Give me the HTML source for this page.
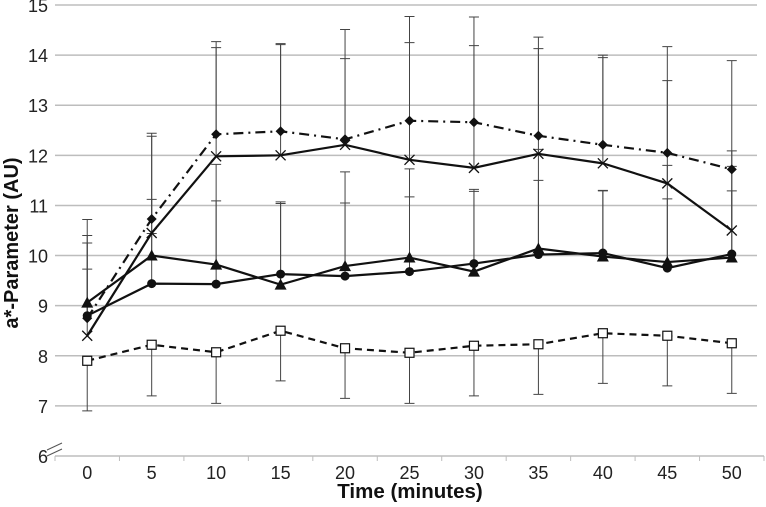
<!DOCTYPE html>
<html><head><meta charset="utf-8">
<style>
body{margin:0;background:#fff;}
svg{display:block;font-family:"Liberation Sans",Arial,sans-serif;}
</style></head>
<body>
<svg id="chart" width="766" height="507" viewBox="0 0 766 507" xmlns="http://www.w3.org/2000/svg">
<g id="grid"></g>
<g id="axes"></g>
<g id="series"></g>
<text x="0" y="0" transform="translate(18,243) rotate(-90)" text-anchor="middle" font-size="20" font-weight="bold" fill="#111">a*-Parameter (AU)</text>
<text x="410" y="498" text-anchor="middle" font-size="20.5" font-weight="bold" fill="#111">Time (minutes)</text>
</svg>
<script>
const categories=[0,5,10,15,20,25,30,35,40,45,50];
const yTicks=[6,7,8,9,10,11,12,13,14,15];
const diamondVals=[8.75,10.73,12.42,12.48,12.32,12.69,12.66,12.39,12.21,12.05,11.72];
const diamondErr=[1.97,1.71,1.85,1.75,2.19,2.08,2.1,1.97,1.79,2.12,2.17];
const crossVals=[8.4,10.45,11.98,12.0,12.21,11.91,11.75,12.03,11.84,11.44,10.5];
const crossErr=[1.85,1.93,2.17,2.21,1.72,2.34,2.44,2.1,2.11,2.05,1.59];
const triVals=[9.06,10.0,9.82,9.42,9.79,9.96,9.68,10.14,9.98,9.87,9.96];
const triErr=[1.34,1.12,2.0,1.65,1.88,1.77,1.6,1.98,1.31,1.93,1.33];
const circVals=[8.8,9.44,9.43,9.63,9.59,9.68,9.84,10.02,10.05,9.75,10.03];
const circErr=[0.93,1.0,1.66,1.41,1.46,1.49,1.48,1.48,1.25,1.38,1.75];
const sqVals=[7.9,8.22,8.07,8.5,8.15,8.06,8.2,8.23,8.45,8.4,8.25];
const sqErr=[1.0,1.02,1.02,1.0,1.0,1.01,1.0,1.0,1.0,1.0,1.0];

const NS="http://www.w3.org/2000/svg";
const L=55,R=764,T=5,B=456,band=(R-L)/categories.length;
const x=i=>L+band*(i+0.5);
const y=v=>B-(v-6)*(B-T)/9;
function mk(tag,attrs,parent){const e=document.createElementNS(NS,tag);for(const k in attrs)e.setAttribute(k,attrs[k]);parent.appendChild(e);return e;}
const grid=document.getElementById('grid'),axes=document.getElementById('axes'),ser=document.getElementById('series');
yTicks.forEach(t=>{
  if(t>6){const g=mk('line',{x1:L,x2:757,y1:y(t),y2:y(t),stroke:'#bdbdbd','stroke-width':1.5},grid);
  
  }
  const tx=mk('text',{x:48,y:y(t)+7,'text-anchor':'end','font-size':18,fill:'#222'},axes);tx.textContent=t;
  
  
});
const ax=mk('line',{x1:L,x2:R,y1:B,y2:B,stroke:'#bdbdbd','stroke-width':1.5},axes);


const br=mk('path',{d:'M47,450 L62,443 M47,456 L62,449',stroke:'#555','stroke-width':1,fill:'none'},axes);


for(let i=0;i<=categories.length;i++){const tk=mk('line',{x1:L+band*i,x2:L+band*i,y1:B,y2:B+5,stroke:'#bdbdbd'},axes);

}
categories.forEach((c,i)=>{const tx=mk('text',{x:x(i),y:479,'text-anchor':'middle','font-size':18,fill:'#222'},axes);tx.textContent=c;

});

function errbars(vals,errs,dir,name){vals.forEach((v,i)=>{const e=v+dir*errs[i];const g=mk('path',{d:`M${x(i)},${y(v)}V${y(e)}M${x(i)-5},${y(e)}h10`,stroke:'#444','stroke-width':1,fill:'none'},ser);

});}
function line(vals,dash,name){const p=mk('polyline',{points:vals.map((v,i)=>x(i)+','+y(v)).join(' '),fill:'none',stroke:'#111','stroke-width':2.2,'stroke-dasharray':dash},ser);

}
function markers(vals,type,name){vals.forEach((v,i)=>{const cx=x(i),cy=y(v);let m;
 if(type==='circle')m=mk('circle',{cx,cy,r:4.5,fill:'#111'},ser);
 else if(type==='diamond')m=mk('path',{d:`M${cx},${cy-5}L${cx+5},${cy}L${cx},${cy+5}L${cx-5},${cy}Z`,fill:'#111'},ser);
 else if(type==='tri')m=mk('path',{d:`M${cx},${cy-6}L${cx+6},${cy+5}L${cx-6},${cy+5}Z`,fill:'#111'},ser);
 else if(type==='cross')m=mk('path',{d:`M${cx-5},${cy-5}L${cx+5},${cy+5}M${cx-5},${cy+5}L${cx+5},${cy-5}`,stroke:'#111','stroke-width':1.3},ser);
 else m=mk('rect',{x:cx-4.5,y:cy-4.5,width:9,height:9,fill:'#fff',stroke:'#111','stroke-width':1.2},ser);
 
 });}
errbars(diamondVals,diamondErr,1,'diamond');errbars(crossVals,crossErr,1,'cross');errbars(triVals,triErr,1,'triangle');errbars(circVals,circErr,1,'circle');errbars(sqVals,sqErr,-1,'square');
line(diamondVals,'10 5 2 5','diamond');line(crossVals,'','cross');line(triVals,'','triangle');line(circVals,'','circle');line(sqVals,'7 5','square');
markers(diamondVals,'diamond','diamond');markers(crossVals,'cross','cross');markers(triVals,'tri','triangle');markers(circVals,'circle','circle');markers(sqVals,'square','square');
</script>
</body></html>
